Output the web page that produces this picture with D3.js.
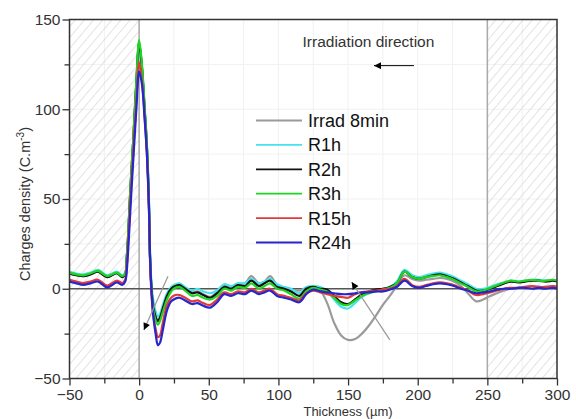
<!DOCTYPE html>
<html><head><meta charset="utf-8">
<script src="https://cdn.jsdelivr.net/npm/d3@7/dist/d3.min.js"></script>
<style>body{margin:0;background:#fff;}svg{display:block;font-family:Arial,"Liberation Sans",sans-serif;}</style>
</head><body><svg id="c" width="576" height="419"></svg>
<script>
// ---- data ----
const thickness = [-50,-45,-40,-35,-29.5,-23,-16,-12,-10,-9,
 -8,-6.7,-5.5,-4.2,-2,0,2,4,5.5,7,
 7.8,8.8,10,12,13.5,15,17,20,23,26,
 29,33,38,42,46,51,56,61,66,71,
 76,80.5,86,90,94,99,104,109,115,120,
 125,130,135,140,145,150,155,160,165,170,
 175,180,185,190.5,196,201,206,211,216,221,
 226,231,236,242,247,252,257,262,267,272,
 277,282,287,292,297,300];

const irrad8min = [8.5,7.5,7,8,9.5,6.5,8.7,6.5,8,16,
 28,49,66,83,115,136,123,99,80,48,
 18,1,-9,-16,-18,-16,-11,-4,0,1.5,
 2,0,-2,-1.5,-3,-4.5,-2,2,1,3,
 3,7,3,4,7,2,0,-0.5,-1,0.5,
 1,-1,-8,-19,-26,-28.5,-28,-25,-20.5,-15,
 -9,-4,1.5,7.5,5.5,4.5,5,5.5,6,5.5,
 4,1.5,-2.5,-7,-6,-4,-2.5,-1,0,0.5,
 1,1.5,1,1,1.5,1];

const r1h = [9.5,8.5,8,9,10.5,7.5,9.5,7.5,9,17,
 28,48,65,82,114,136,124,101,82,51,
 22,4,-6,-13,-15.5,-14,-9,-2.5,1,2.5,
 3,1,-1,0,-1.5,-2.5,-1,2.5,1.5,3,
 3,5.5,3,4,5.5,2.5,1,0,-2.5,1,
 1.5,1,-1.5,-6,-10,-11,-8,-4.5,-2.5,-1,
 0,1,4,10.5,7.5,6.5,7.5,8.5,9,8,
 6.5,4.5,2.5,0,0,1,2.5,3.5,4.5,4,
 4.5,5,5,4.5,5,4.5];

const r2h = [8.5,7.5,7,8,9.5,6.5,8.7,6.5,8,16,
 28,49,66,83,115,137,123,99,80,48,
 18,1,-9,-16,-18,-16,-11,-4,0,1.5,
 2,0,-2.5,-2,-3.5,-5,-2.5,1,0,2,
 1.5,4.5,1.5,3,4.5,1,0,-1.5,-4,0,
 1,0,-0.5,-4,-7.5,-8.5,-6,-3,-1.5,-0.5,
 0,1,3,9.5,6.5,5.5,6.5,7.5,8,7,
 5.5,3.5,1.5,-1,-1,0,1.5,3,4,3.5,
 4,4.5,4.5,4,4.5,4];

const r3h = [9,8,7.5,8.5,10,7,9,7,8.5,16.5,
 29,50,67,84,116,138.5,125,100,81,49,
 19,1,-11,-18,-20,-18,-13,-6,-1.5,0.5,
 1,-1,-4,-3.5,-5,-6,-4,0,-1,1,
 0.5,3,0,1.5,3,0,-1,-3,-5.5,-1.5,
 0.5,-0.5,-1.5,-5,-8.5,-9,-6.5,-4,-2.5,-1.5,
 -0.5,0.5,3,9.5,6.5,5.5,6.5,7,7.5,6.5,
 5,3,1,-1.5,-1,0.5,2,3.5,4.5,4,
 4.5,5,4.5,4.5,5,4.5];

const r15h = [5,4,3.2,4,5,1.8,4.5,3.2,5,12,
 24,44,60,77,105,126,116,95,76,45,
 16,-2,-14,-23,-27,-26,-19,-9,-5,-3.5,
 -3.5,-5,-7,-6.5,-8,-9,-6,-2,-3,-1.5,
 -2,0,-2,-1,0,-3,-4,-5,-6.5,-2.5,
 -1,-2,-3,-4,-4.5,-5,-3,-2,-1.5,-1,
 -0.5,0,1.5,5.5,2,1,2,3,3.5,3,
 2,0.5,-1,-3.5,-3,-2,-1,0,0.5,0.5,
 1,1.5,1,1,1.5,1];

const r24h = [4,3,2.2,3,4,0.8,3.5,2.2,4,9,
 20,38,55,72,100,121,114,94,76,46,
 18,0,-14,-26,-31.5,-30,-23,-12,-7,-5.5,
 -5,-6.5,-8.5,-8,-9.5,-10.5,-7.5,-3,-4,-2.5,
 -3,-1,-3,-2,-1,-4,-5,-6,-7.5,-3,
 -0.5,-1.5,-2,-2.5,-3,-3,-2.5,-2,-2,-1.5,
 -1.5,-0.5,1,4.5,1.5,0.5,1.5,2.5,3,2.5,
 1.5,0,-1,-2.5,-2,-1.5,-0.5,0,0,0.5,
 0.5,0,0.5,0,0.5,0];

const seriesNames = ["Irrad 8min","R1h","R2h","R3h","R15h","R24h"];
const seriesValues = [irrad8min, r1h, r2h, r3h, r15h, r24h];
const seriesColors = ["#9a9a9a","#45e3ee","#111111","#22d422","#e23a3a","#2626cc"];
const xTicks = [-50,0,50,100,150,200,250,300];
const yTicks = [-50,0,50,100,150];
const hatchedRanges = [[-50,0],[250,300]];

// ---- layout ----
const svg = d3.select("#c");
const L=69.5, R=557, T=19.5, B=378.5;
const x = d3.scaleLinear().domain([-50,300]).range([L,R]);
const y = d3.scaleLinear().domain([-50,150]).range([B,T]);

const defs = svg.append("defs");
defs.append("clipPath").attr("id","clip").append("rect")
  .attr("x",L).attr("y",T).attr("width",R-L).attr("height",B-T);
const pat = defs.append("pattern").attr("id","hatch").attr("patternUnits","userSpaceOnUse")
  .attr("width",7).attr("height",7).attr("patternTransform","rotate(40)");
pat.append("line").attr("x1",0).attr("y1",0).attr("x2",0).attr("y2",7)
  .attr("stroke","#c8c8c8").attr("stroke-width",1);
defs.append("marker").attr("id","ah").attr("viewBox","0 0 10 10")
  .attr("refX",10).attr("refY",5).attr("markerWidth",9).attr("markerHeight",7)
  .attr("markerUnits","userSpaceOnUse").attr("orient","auto")
  .append("path").attr("d","M0,0L10,5L0,10z").attr("fill","#000");

// faint grid
const g = svg.append("g");
d3.range(-50,301,25).forEach(v=>g.append("line").attr("x1",x(v)).attr("x2",x(v)).attr("y1",T).attr("y2",B).attr("stroke","#f1f1f1"));
d3.range(-50,151,25).forEach(v=>g.append("line").attr("y1",y(v)).attr("y2",y(v)).attr("x1",L).attr("x2",R).attr("stroke","#f1f1f1"));

// hatched regions
hatchedRanges.forEach(r=>{
  svg.append("rect").attr("x",x(r[0])).attr("y",T).attr("width",x(r[1])-x(r[0])).attr("height",B-T)
    .attr("fill","url(#hatch)");
});
// boundary lines
[0,250].forEach(v=>svg.append("line").attr("x1",x(v)).attr("x2",x(v)).attr("y1",T).attr("y2",B)
  .attr("stroke","#aaaaaa").attr("stroke-width",1.5));
svg.append("line").attr("x1",L).attr("x2",R).attr("y1",y(0)).attr("y2",y(0))
  .attr("stroke","#555").attr("stroke-width",1.6);

// series
const line = d3.line().curve(d3.curveCatmullRom.alpha(0.5));
const plot = svg.append("g").attr("clip-path","url(#clip)");
seriesValues.forEach((vals,i)=>{
  plot.append("path").datum(thickness.map((t,k)=>[x(t),y(vals[k])]))
    .attr("d",line).attr("fill","none").attr("stroke",seriesColors[i])
    .attr("stroke-width",2.2).attr("stroke-linejoin","round");
});

// axes
const xAxis = d3.axisBottom(x).tickValues(xTicks).tickSize(7).tickPadding(3);
svg.append("g").attr("transform",`translate(0,${B})`).call(xAxis);
const xMinor = d3.axisBottom(x).tickValues(d3.range(-25,300,50)).tickSize(5).tickFormat("");
svg.append("g").attr("transform",`translate(0,${B})`).call(xMinor);
const yAxis = d3.axisLeft(y).tickValues(yTicks).tickSize(7).tickPadding(2);
svg.append("g").attr("transform",`translate(${L},0)`).call(yAxis);
const yMinor = d3.axisLeft(y).tickValues(d3.range(-25,150,50)).tickSize(5).tickFormat("");
svg.append("g").attr("transform",`translate(${L},0)`).call(yMinor);
svg.selectAll(".domain").remove();
svg.selectAll(".tick line").attr("stroke","#333").attr("stroke-width",1.3);
svg.selectAll(".tick text").attr("font-size",15.5).attr("fill","#333").attr("font-family","Arial, 'Liberation Sans', sans-serif");
// frame
svg.append("rect").attr("x",L).attr("y",T).attr("width",R-L).attr("height",B-T)
  .attr("fill","none").attr("stroke","#333").attr("stroke-width",1.5);

// titles
svg.append("text").attr("x",348).attr("y",416).attr("text-anchor","middle")
  .attr("font-size",13).attr("fill","#333").text("Thickness (µm)");
const yt = svg.append("text").attr("transform","translate(30,204) rotate(-90)").attr("text-anchor","middle")
  .attr("font-size",14.5).attr("fill","#333");
yt.append("tspan").text("Charges density (C.m");
yt.append("tspan").attr("dy",-6).attr("font-size",10).text("-3");
yt.append("tspan").attr("dy",6).text(")");

// annotations
svg.append("text").attr("x",x(117.3)).attr("y",y(134.8)).attr("font-size",15.5).attr("fill","#333")
  .text("Irradiation direction");
svg.append("line").attr("x1",x(197.3)).attr("y1",y(124.3)).attr("x2",x(168.6)).attr("y2",y(124.3))
  .attr("stroke","#000").attr("stroke-width",1).attr("marker-end","url(#ah)");
svg.append("line").attr("x1",x(20.7)).attr("y1",y(7)).attr("x2",x(3.4)).attr("y2",y(-23))
  .attr("stroke","#999").attr("stroke-width",1.2).attr("marker-end","url(#ah)");
svg.append("line").attr("x1",x(180)).attr("y1",y(-28.5)).attr("x2",x(152.6)).attr("y2",y(3.7))
  .attr("stroke","#999").attr("stroke-width",1.2).attr("marker-end","url(#ah)");

// legend
const lg = svg.append("g");
seriesNames.forEach((n,i)=>{
  const yy = 120.5 + i*24.4;
  lg.append("line").attr("x1",256).attr("x2",302).attr("y1",yy).attr("y2",yy)
    .attr("stroke",seriesColors[i]).attr("stroke-width",1.8);
  lg.append("text").attr("x",308).attr("y",yy+6.5).attr("font-size",18).attr("fill","#111").text(n);
});
</script></body></html>
